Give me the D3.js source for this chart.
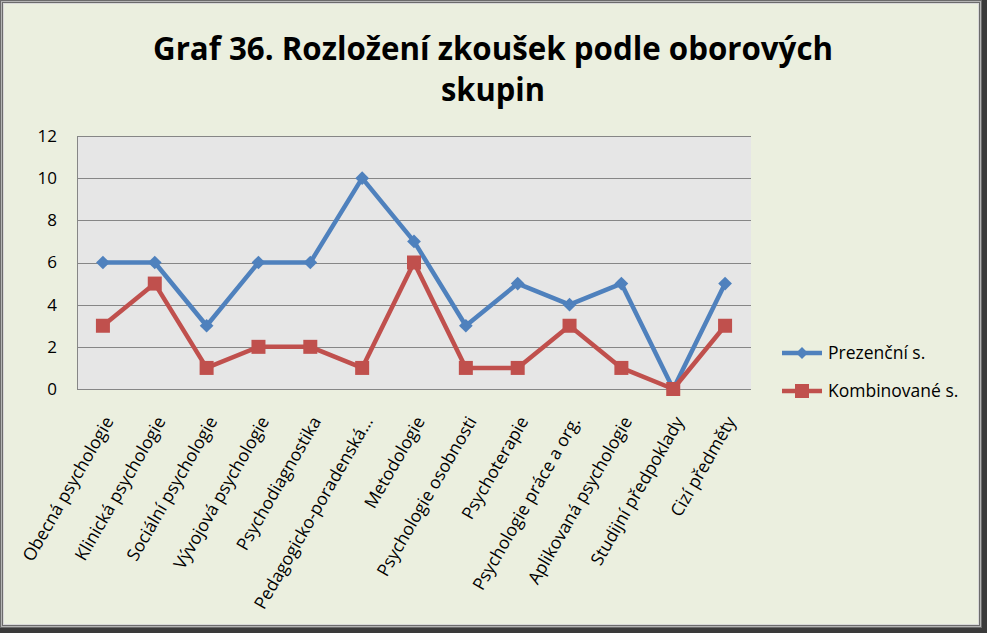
<!DOCTYPE html>
<html>
<head>
<meta charset="utf-8">
<script src="https://cdn.jsdelivr.net/npm/d3@7"></script>
<style>
  html, body { margin: 0; padding: 0; background: #fff; }
  svg { display: block; }
  text { font-family: "Open Sans", "Noto Sans", sans-serif; fill: #000; }
</style>
</head>
<body>
<svg id="chart" width="987" height="633"></svg>
<script>
const categories = [
  "Obecná psychologie", "Klinická psychologie", "Sociální psychologie",
  "Vývojová psychologie", "Psychodiagnostika", "Pedagogicko-poradenská…",
  "Metodologie", "Psychologie osobnosti", "Psychoterapie",
  "Psychologie práce a org.", "Aplikovaná psychologie", "Studijní předpoklady",
  "Cizí předměty"
];
const prezencni = [6, 6, 3, 6, 6, 10, 7, 3, 5, 4, 5, 0, 5];
const kombinovane = [3, 5, 1, 2, 2, 1, 6, 1, 1, 3, 1, 0, 3];
const seriesNames = ["Prezenční s.", "Kombinované s."];
const yTicks = [0, 2, 4, 6, 8, 10, 12];
const titleLines = ["Graf 36. Rozložení zkoušek podle oborových", "skupin"];

const svg = d3.select("#chart");
const W = 987, H = 633;

// frame
svg.append("rect").attr("x", 0).attr("y", 0).attr("width", W).attr("height", H).attr("fill", "#3a3a3a");
svg.append("rect").attr("x", 0).attr("y", 0).attr("width", W - 5).attr("height", H - 5).attr("fill", "#6b6b6b");
svg.append("rect").attr("x", 1).attr("y", 1).attr("width", W - 7).attr("height", H - 7).attr("fill", "#b4b4b4");
svg.append("rect").attr("x", 2).attr("y", 2).attr("width", W - 9).attr("height", H - 9).attr("fill", "#6b6b6b");
svg.append("rect").attr("x", 3).attr("y", 3).attr("width", W - 11).attr("height", H - 11).attr("fill", "#d8d8d8");
svg.append("rect").attr("x", 4).attr("y", 4).attr("width", W - 13).attr("height", H - 13).attr("fill", "#ebefdf");

// title
svg.append("text").attr("x", 493).attr("y", 60).attr("text-anchor", "middle")
  .attr("font-size", 33).attr("font-weight", "bold")
  .attr("textLength", 680).attr("lengthAdjust", "spacingAndGlyphs")
  .text(titleLines[0]);
svg.append("text").attr("x", 493).attr("y", 101).attr("text-anchor", "middle")
  .attr("font-size", 33).attr("font-weight", "bold")
  .attr("textLength", 104).attr("lengthAdjust", "spacingAndGlyphs")
  .text(titleLines[1]);

const plot = { left: 77, top: 136, right: 751, bottom: 389 };
const x = d3.scaleBand().domain(categories).range([plot.left, plot.right]);
const y = d3.scaleLinear().domain([0, 12]).range([plot.bottom, plot.top]);

svg.append("rect").attr("x", plot.left).attr("y", plot.top)
  .attr("width", plot.right - plot.left).attr("height", plot.bottom - plot.top)
  .attr("fill", "#e6e6e6");

// gridlines
svg.append("g").selectAll("line").data(yTicks).join("line")
  .attr("x1", plot.left).attr("x2", plot.right)
  .attr("y1", d => Math.round(y(d)) + 0.5).attr("y2", d => Math.round(y(d)) + 0.5)
  .attr("stroke", "#868686").attr("stroke-width", 1);
svg.append("line").attr("x1", plot.left + 0.5).attr("x2", plot.left + 0.5)
  .attr("y1", plot.top).attr("y2", plot.bottom + 0.5).attr("stroke", "#868686");

// y axis labels
const yAxis = d3.axisLeft(y).tickValues(yTicks).tickSize(0).tickPadding(20);
const yg = svg.append("g").attr("transform", `translate(${plot.left},0)`).call(yAxis);
yg.select(".domain").remove();
yg.selectAll("text").attr("font-size", 17).attr("font-family", "Open Sans, sans-serif").attr("fill", "#000");

// x axis labels
const xAxis = d3.axisBottom(x).tickSize(0).tickPadding(0);
const xg = svg.append("g").attr("transform", `translate(0,${plot.bottom})`).call(xAxis);
xg.select(".domain").remove();
xg.selectAll("text")
  .attr("font-size", 17.5).attr("font-family", "Open Sans, sans-serif").attr("fill", "#000")
  .attr("text-anchor", "end")
  .attr("dy", "0.35em")
  .attr("transform", "translate(6,29) rotate(-60)")
  .attr("y", 0).attr("x", 0);

const colors = ["#4f81bd", "#c0504d"];
const data = [prezencni, kombinovane];
const cx = (d, i) => x(categories[i]) + x.bandwidth() / 2;

const line = d3.line().x((d, i) => cx(d, i)).y(d => y(d));

[0, 1].forEach(s => {
  svg.append("path").datum(data[s]).attr("d", line)
    .attr("fill", "none").attr("stroke", colors[s]).attr("stroke-width", 4.5)
    .attr("stroke-linejoin", "round");
});
// markers
[0, 1].forEach(s => {
  const g = svg.append("g");
  if (s === 0) {
    g.selectAll("path").data(data[s]).join("path")
      .attr("d", d3.symbol(d3.symbolDiamond2, 120)())
      .attr("transform", (d, i) => `translate(${cx(d, i)},${y(d)})`)
      .attr("fill", colors[s]);
  } else {
    g.selectAll("rect").data(data[s]).join("rect")
      .attr("x", (d, i) => cx(d, i) - 7).attr("y", d => y(d) - 7)
      .attr("width", 14).attr("height", 14)
      .attr("fill", colors[s]);
  }
});

// legend
const legY = [353, 391];
seriesNames.forEach((name, s) => {
  const g = svg.append("g");
  g.append("line").attr("x1", 782).attr("x2", 822).attr("y1", legY[s]).attr("y2", legY[s])
    .attr("stroke", colors[s]).attr("stroke-width", 4.5);
  if (s === 0) {
    g.append("path").attr("d", d3.symbol(d3.symbolDiamond2, 90)())
      .attr("transform", `translate(802,${legY[s]})`).attr("fill", colors[s]);
  } else {
    g.append("rect").attr("x", 795).attr("y", legY[s] - 7).attr("width", 14).attr("height", 14)
      .attr("fill", colors[s]);
  }
  g.append("text").attr("x", 828).attr("y", legY[s]).attr("dy", "0.35em")
    .attr("font-size", 17.5).text(name);
});
</script>
</body>
</html>
